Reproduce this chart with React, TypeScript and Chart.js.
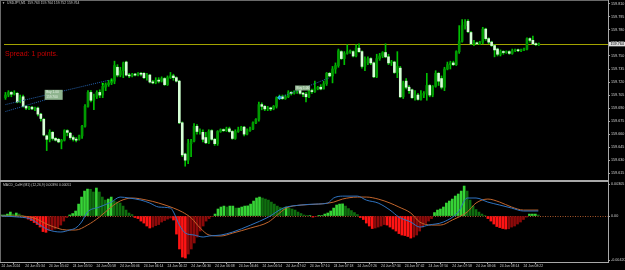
import React, { useEffect, useRef } from "react";
import { Chart, registerables } from "chart.js";
Chart.register(...registerables);

const FONT = "'Liberation Sans', Arial, sans-serif";

const SYMBOL_TITLE = "USDJPY,M1  159.763 159.764 159.752 159.764";
const SPREAD_TEXT = "Spread: 1 points.";
const MACD_TITLE = "MACD_ColH (M1) (12,26,9) 0.00390 0.00051";
const CURRENT_PRICE = 159.764;
const SLOT_COUNT = 205;

const timeTickIndex = [0, 8, 16, 24, 32, 40, 48, 56, 64, 72, 80, 88, 96, 104, 112, 120, 128, 136, 144, 152, 160, 168, 176];
const timeTickLabels = [
  "24 Jun 2024", "24 Jun 05:34", "24 Jun 05:42", "24 Jun 05:50", "24 Jun 05:58", "24 Jun 06:06",
  "24 Jun 06:14", "24 Jun 06:22", "24 Jun 06:30", "24 Jun 06:38", "24 Jun 06:46", "24 Jun 06:54",
  "24 Jun 07:02", "24 Jun 07:10", "24 Jun 07:18", "24 Jun 07:26", "24 Jun 07:34", "24 Jun 07:42",
  "24 Jun 07:50", "24 Jun 07:58", "24 Jun 08:06", "24 Jun 08:14", "24 Jun 08:22",
];

const priceTicks = [159.615, 159.63, 159.645, 159.66, 159.675, 159.69, 159.705, 159.72, 159.735, 159.75, 159.765, 159.78, 159.795, 159.81];
const macdTicks = [-0.0042, 0, 0.00305];

const openPrices = [
  159.702, 159.705, 159.708, 159.706, 159.707, 159.698, 159.703, 159.692, 159.690, 159.691,
  159.689, 159.690, 159.683, 159.677, 159.658, 159.654, 159.662, 159.655, 159.654, 159.651,
  159.653, 159.664, 159.661, 159.656, 159.654, 159.654, 159.658, 159.669, 159.692, 159.708,
  159.699, 159.703, 159.708, 159.705, 159.714, 159.717, 159.719, 159.721, 159.737, 159.728,
  159.733, 159.743, 159.728, 159.727, 159.729, 159.728, 159.730, 159.730, 159.725, 159.728,
  159.720, 159.719, 159.722, 159.721, 159.724, 159.717, 159.725, 159.727, 159.725, 159.721,
  159.673, 159.637, 159.630, 159.649, 159.652, 159.669, 159.663, 159.662, 159.656, 159.650,
  159.664, 159.654, 159.649, 159.663, 159.665, 159.664, 159.666, 159.663, 159.655, 159.663,
  159.665, 159.668, 159.660, 159.664, 159.666, 159.673, 159.677, 159.694, 159.692, 159.689,
  159.690, 159.689, 159.692, 159.702, 159.703, 159.701, 159.703, 159.708, 159.707, 159.709,
  159.711, 159.707, 159.706, 159.703, 159.710, 159.709, 159.712, 159.714, 159.712, 159.718,
  159.730, 159.727, 159.735, 159.739, 159.755, 159.747, 159.753, 159.755, 159.755, 159.750,
  159.759, 159.755, 159.738, 159.742, 159.747, 159.742, 159.726, 159.747, 159.750, 159.754,
  159.749, 159.742, 159.743, 159.731, 159.736, 159.703, 159.721, 159.714, 159.711, 159.702,
  159.705, 159.700, 159.705, 159.707, 159.716, 159.705, 159.715, 159.730, 159.724, 159.714,
  159.735, 159.740, 159.742, 159.740, 159.755, 159.767, 159.785, 159.790, 159.777, 159.764,
  159.765, 159.764, 159.766, 159.781, 159.770, 159.766, 159.762, 159.758, 159.752, 159.755,
  159.754, 159.755, 159.753, 159.756, 159.757, 159.756, 159.757, 159.758, 159.770, 159.768,
  159.764, 159.763,
];
const highPrices = [
  159.708, 159.710, 159.709, 159.710, 159.708, 159.705, 159.705, 159.693, 159.692, 159.692,
  159.691, 159.691, 159.684, 159.678, 159.659, 159.665, 159.663, 159.656, 159.655, 159.654,
  159.665, 159.665, 159.662, 159.658, 159.656, 159.659, 159.670, 159.694, 159.710, 159.710,
  159.706, 159.710, 159.711, 159.718, 159.719, 159.722, 159.724, 159.744, 159.740, 159.737,
  159.743, 159.744, 159.730, 159.730, 159.730, 159.731, 159.731, 159.731, 159.730, 159.729,
  159.722, 159.725, 159.725, 159.726, 159.725, 159.727, 159.731, 159.729, 159.726, 159.722,
  159.674, 159.638, 159.654, 159.654, 159.672, 159.671, 159.666, 159.665, 159.662, 159.665,
  159.665, 159.655, 159.664, 159.666, 159.666, 159.668, 159.668, 159.664, 159.665, 159.668,
  159.669, 159.669, 159.666, 159.668, 159.674, 159.678, 159.697, 159.696, 159.693, 159.692,
  159.691, 159.693, 159.703, 159.705, 159.705, 159.705, 159.710, 159.709, 159.710, 159.711,
  159.712, 159.708, 159.708, 159.712, 159.712, 159.721, 159.715, 159.717, 159.721, 159.731,
  159.731, 159.738, 159.742, 159.758, 159.756, 159.755, 159.763, 159.757, 159.756, 159.763,
  159.764, 159.756, 159.749, 159.749, 159.748, 159.743, 159.752, 159.753, 159.755, 159.764,
  159.752, 159.745, 159.744, 159.755, 159.738, 159.721, 159.724, 159.716, 159.712, 159.710,
  159.707, 159.710, 159.709, 159.730, 159.717, 159.716, 159.733, 159.731, 159.727, 159.737,
  159.743, 159.744, 159.744, 159.756, 159.785, 159.792, 159.792, 159.792, 159.778, 159.768,
  159.766, 159.767, 159.783, 159.782, 159.771, 159.767, 159.763, 159.759, 159.757, 159.756,
  159.756, 159.756, 159.758, 159.758, 159.758, 159.758, 159.759, 159.771, 159.771, 159.773,
  159.765, 159.765,
];
const lowPrices = [
  159.700, 159.703, 159.703, 159.705, 159.696, 159.696, 159.691, 159.688, 159.688, 159.688,
  159.687, 159.681, 159.675, 159.658, 159.641, 159.651, 159.653, 159.652, 159.650, 159.643,
  159.652, 159.658, 159.654, 159.652, 159.651, 159.653, 159.655, 159.668, 159.691, 159.697,
  159.688, 159.701, 159.702, 159.702, 159.710, 159.715, 159.717, 159.718, 159.726, 159.726,
  159.725, 159.727, 159.725, 159.726, 159.727, 159.727, 159.727, 159.724, 159.722, 159.719,
  159.718, 159.718, 159.719, 159.720, 159.716, 159.716, 159.724, 159.722, 159.720, 159.672,
  159.634, 159.623, 159.626, 159.634, 159.651, 159.660, 159.660, 159.651, 159.649, 159.649,
  159.653, 159.647, 159.647, 159.662, 159.663, 159.663, 159.662, 159.654, 159.654, 159.662,
  159.664, 159.658, 159.659, 159.663, 159.665, 159.672, 159.675, 159.688, 159.687, 159.687,
  159.687, 159.688, 159.690, 159.701, 159.700, 159.700, 159.702, 159.705, 159.706, 159.707,
  159.706, 159.703, 159.697, 159.702, 159.707, 159.708, 159.711, 159.711, 159.712, 159.716,
  159.726, 159.719, 159.730, 159.737, 159.746, 159.740, 159.752, 159.753, 159.749, 159.749,
  159.754, 159.736, 159.733, 159.740, 159.740, 159.725, 159.725, 159.745, 159.748, 159.748,
  159.740, 159.739, 159.730, 159.725, 159.702, 159.701, 159.712, 159.707, 159.701, 159.699,
  159.699, 159.699, 159.702, 159.699, 159.703, 159.703, 159.714, 159.716, 159.712, 159.710,
  159.734, 159.735, 159.739, 159.739, 159.753, 159.766, 159.781, 159.777, 159.763, 159.762,
  159.763, 159.763, 159.764, 159.768, 159.764, 159.761, 159.749, 159.750, 159.750, 159.752,
  159.753, 159.752, 159.752, 159.755, 159.755, 159.755, 159.756, 159.757, 159.766, 159.763,
  159.762, 159.762,
];
const closePrices = [
  159.705, 159.708, 159.706, 159.707, 159.697, 159.702, 159.692, 159.690, 159.691, 159.689,
  159.690, 159.683, 159.678, 159.659, 159.654, 159.662, 159.655, 159.653, 159.651, 159.653,
  159.664, 159.662, 159.656, 159.654, 159.653, 159.658, 159.669, 159.692, 159.708, 159.699,
  159.703, 159.708, 159.705, 159.715, 159.717, 159.719, 159.721, 159.739, 159.728, 159.733,
  159.742, 159.728, 159.727, 159.729, 159.728, 159.730, 159.729, 159.725, 159.728, 159.720,
  159.719, 159.722, 159.721, 159.724, 159.717, 159.725, 159.727, 159.725, 159.721, 159.673,
  159.636, 159.630, 159.649, 159.652, 159.669, 159.663, 159.664, 159.654, 159.650, 159.663,
  159.654, 159.649, 159.663, 159.665, 159.664, 159.666, 159.663, 159.655, 159.663, 159.665,
  159.668, 159.660, 159.664, 159.666, 159.673, 159.677, 159.694, 159.692, 159.689, 159.690,
  159.689, 159.692, 159.702, 159.703, 159.701, 159.703, 159.708, 159.707, 159.709, 159.710,
  159.707, 159.706, 159.703, 159.710, 159.709, 159.712, 159.714, 159.712, 159.718, 159.730,
  159.727, 159.735, 159.739, 159.756, 159.747, 159.753, 159.755, 159.756, 159.750, 159.759,
  159.755, 159.738, 159.742, 159.747, 159.742, 159.726, 159.747, 159.750, 159.754, 159.749,
  159.742, 159.743, 159.731, 159.738, 159.703, 159.719, 159.714, 159.710, 159.702, 159.705,
  159.700, 159.705, 159.707, 159.716, 159.705, 159.715, 159.730, 159.721, 159.714, 159.735,
  159.740, 159.742, 159.740, 159.755, 159.767, 159.785, 159.789, 159.778, 159.764, 159.765,
  159.764, 159.766, 159.781, 159.770, 159.766, 159.762, 159.757, 159.752, 159.755, 159.754,
  159.755, 159.753, 159.756, 159.757, 159.756, 159.757, 159.758, 159.770, 159.768, 159.764,
  159.763, 159.764,
];

const histogram = [
  0.0001, 0.0001, 0.00019, 0.00038, 0.00019, 0.00029, 0.00019, 0.00005, -0.00014, -0.00029,
  -0.00043, -0.00062, -0.00081, -0.00105, -0.00148, -0.00155, -0.00138, -0.00133, -0.00124, -0.0011,
  -0.00086, -0.00048, -0.00014, 0.0001, 0.00024, 0.00048, 0.00114, 0.00181, 0.00238, 0.00257,
  0.00255, 0.00229, 0.00267, 0.00229, 0.00181, 0.00152, 0.00162, 0.00181, 0.00143, 0.00133,
  0.00124, 0.00095, 0.00057, 0.00029, 0.00014, -0.00014, -0.00024, -0.00048, -0.00067, -0.00095,
  -0.00114, -0.00105, -0.00091, -0.00081, -0.00057, -0.00043, -0.00029, -0.00019, -0.00038, -0.00172,
  -0.00314, -0.00391, -0.004, -0.00362, -0.00314, -0.00257, -0.002, -0.00143, -0.00095, -0.00048,
  -0.00024, -0.00005, 0.00019, 0.00067, 0.00086, 0.00095, 0.00086, 0.00095, 0.00095, 0.00076,
  0.00076, 0.00086, 0.00095, 0.00097, 0.00114, 0.00143, 0.00172, 0.00181, 0.00172, 0.00162,
  0.00152, 0.00133, 0.00114, 0.00095, 0.00081, 0.00076, 0.00086, 0.00076, 0.00067, 0.00057,
  0.00038, 0.00024, 0.0001, 0.00005, 0.00005, -0.0001, -0.00005, 0.00003, 0.00005, 0.00019,
  0.00029, 0.00048, 0.00076, 0.00105, 0.00114, 0.00116, 0.00095, 0.00071, 0.00052, 0.00033,
  0.00014, -0.00014, -0.00033, -0.00067, -0.00095, -0.00119, -0.00114, -0.00105, -0.00095, -0.00081,
  -0.00086, -0.00105, -0.00124, -0.00143, -0.00167, -0.00181, -0.00186, -0.00195, -0.0021, -0.002,
  -0.00181, -0.00143, -0.00105, -0.00071, -0.00048, -0.00024, 0.00033, 0.00057, 0.00067, 0.00086,
  0.00124, 0.00143, 0.00162, 0.00191, 0.0021, 0.00238, 0.00286, 0.00238, 0.00152, 0.00095,
  0.00062, 0.00038, 0.00019, 0.00005, -0.00024, -0.00048, -0.00076, -0.001, -0.0011, -0.00119,
  -0.00124, -0.00121, -0.00105, -0.00095, -0.00076, -0.00057, -0.00033, -0.0001, 0.00019, 0.00019,
  0.00019, 0.0001,
];

// [bar index, value] readings of the two MACD lines
const macdMain: [number, number][] = [
  [0, 0], [6, -0.0001], [10, -0.0003], [13, -0.00086], [16, -0.00133], [20, -0.00152], [23, -0.00133],
  [25, -0.00114], [27, -0.00057], [29, 0.00038], [33, 0.00086], [37, 0.00133], [40, 0.00181], [43, 0.00172],
  [47, 0.00152], [50, 0.00124], [53, 0.00086], [57, 0.00076], [58, 0.00038], [60, -0.00086], [62, -0.00162],
  [65, -0.00181], [68, -0.002], [70, -0.0019], [74, -0.00181], [78, -0.00152], [84, -0.00086], [90, -0.0001],
  [95, 0.00076], [101, 0.00105], [106, 0.00114], [110, 0.00124], [112, 0.00172], [115, 0.0019], [120, 0.0019],
  [123, 0.00152], [127, 0.00124], [131, 0.00057], [134, -0.0001], [138, -0.00057], [141, -0.00105],
  [144, -0.00086], [149, -0.00057], [154, 0.00038], [157, 0.00172], [160, 0.00172], [164, 0.00133],
  [168, 0.00105], [172, 0.00076], [176, 0.00048], [181, 0.00048],
];
const macdSignal: [number, number][] = [
  [0, 0], [6, 0], [11, -0.00019], [16, -0.00086], [22, -0.00133], [25, -0.00133], [29, -0.00086],
  [33, -0.0001], [37, 0.00086], [40, 0.00143], [44, 0.00172], [49, 0.00152], [53, 0.00124], [58, 0.00076],
  [61, 0.00038], [64, -0.00019], [67, -0.00114], [70, -0.00181], [74, -0.0019], [78, -0.00162], [84, -0.00114],
  [90, -0.00057], [93, 0.0001], [96, 0.00076], [101, 0.00105], [107, 0.00114], [112, 0.00133], [115, 0.00162],
  [120, 0.00181], [123, 0.00181], [127, 0.00162], [131, 0.00124], [134, 0.00086], [138, 0.00029],
  [141, -0.00057], [145, -0.00086], [148, -0.00086], [152, -0.00038], [157, 0.00038], [160, 0.00124],
  [164, 0.00162], [168, 0.00133], [172, 0.00086], [176, 0.00057], [181, 0.00057],
];

// trade history objects, [bar index, price]
const tradeLineA: [number, number][] = [[0, 159.694], [35, 159.722]];
const tradeLineB: [number, number][] = [[0, 159.686], [14, 159.7]];
const tradeLineC: [number, number][] = [[93, 159.702], [110, 159.725]];
const entryDots: [number, number][] = [[33, 159.718], [36, 159.722]];
const exitMarks: [number, number][] = [[93, 159.702]];
const tradeTags = [
  { i: 13.3, price: 159.711, text: ["Buy 1.00", "159.700"] },
  { i: 98.3, price: 159.716, text: ["Buy 1.00"] },
];

const toXY = (arr: [number, number][]) => arr.map(([x, y]) => ({ x, y }));

export default function App() {
  const mainRef = useRef<HTMLCanvasElement>(null);
  const macdRef = useRef<HTMLCanvasElement>(null);

  useEffect(() => {
    document.body.style.margin = "0";
    document.body.style.background = "#000";
    const idx = openPrices.map((_, i) => i);

    const wickData = idx.map((i) => ({ x: i, y: [lowPrices[i], highPrices[i]] }));
    const bodyData = idx.map((i) => ({
      x: i,
      y: [Math.min(openPrices[i], closePrices[i]), Math.max(openPrices[i], closePrices[i])],
    }));
    const bodyColors = idx.map((i) => (closePrices[i] > openPrices[i] ? "#009a00" : "#d6ffd6"));

    const xBase: any = {
      type: "linear",
      min: -0.5,
      max: SLOT_COUNT - 0.5,
      offset: false,
    };

    const mainDecor = {
      id: "mainDecor",
      beforeDatasetsDraw(chart: any) {
        const { ctx, chartArea: a, scales } = chart;
        const py = Math.round(scales.y.getPixelForValue(CURRENT_PRICE)) + 0.5;
        ctx.save();
        ctx.strokeStyle = "#a3a300";
        ctx.lineWidth = 1;
        ctx.beginPath();
        ctx.moveTo(a.left, py);
        ctx.lineTo(a.right, py);
        ctx.stroke();
        ctx.restore();
      },
      afterDraw(chart: any) {
        const { ctx, chartArea: a, scales } = chart;
        ctx.save();
        // frame
        ctx.fillStyle = "#6a6a6a";
        ctx.fillRect(0, 0, a.right, 1);
        ctx.fillRect(0, 0, 1, chart.height);
        ctx.fillStyle = "#a8a8a8";
        ctx.fillRect(a.right, 0, 1, chart.height);
        ctx.fillRect(0, 180, a.right, 2);
        // title
        ctx.fillStyle = "#c8c8c8";
        ctx.textBaseline = "middle";
        ctx.font = `3px ${FONT}`;
        ctx.fillText("▼", 2, 3.5);
        ctx.font = `3.4px ${FONT}`;
        ctx.fillText(SYMBOL_TITLE, 7, 3.5);
        // spread
        ctx.fillStyle = "#c80000";
        ctx.font = `7px ${FONT}`;
        ctx.textBaseline = "alphabetic";
        ctx.fillText(SPREAD_TEXT, 5, 56);
        // trade tags
        tradeTags.forEach((t) => {
          const x = scales.x.getPixelForValue(t.i);
          const y = scales.y.getPixelForValue(t.price);
          const h = t.text.length * 5;
          const w = t.text.length > 1 ? 18 : 15;
          ctx.fillStyle = "#8fb48f";
          ctx.fillRect(x, y, w, h);
          ctx.fillStyle = "#e6f2e6";
          ctx.font = `3.2px ${FONT}`;
          ctx.textBaseline = "middle";
          t.text.forEach((s, k) => ctx.fillText(s, x + 1.5, y + 2.5 + k * 5));
        });
        // current price label
        const py = scales.y.getPixelForValue(CURRENT_PRICE);
        ctx.fillStyle = "#dedede";
        ctx.fillRect(a.right + 1, py - 2, 16, 4.5);
        ctx.fillStyle = "#000";
        ctx.font = `3.7px ${FONT}`;
        ctx.textBaseline = "middle";
        ctx.fillText(CURRENT_PRICE.toFixed(3), a.right + 2.5, py + 0.3);
        ctx.restore();
      },
    };

    const main = new Chart(mainRef.current!, {
      type: "bar",
      data: {
        datasets: [
          {
            type: "line",
            data: toXY(tradeLineA),
            borderColor: "#2462ae",
            borderWidth: 1,
            borderDash: [1, 1],
            pointRadius: 0,
            order: 0,
          } as any,
          {
            type: "line",
            data: toXY(tradeLineB),
            borderColor: "#2462ae",
            borderWidth: 1,
            borderDash: [1, 1],
            pointRadius: 0,
            order: 0,
          } as any,
          {
            type: "line",
            data: toXY(tradeLineC),
            borderColor: "#2462ae",
            borderWidth: 1,
            borderDash: [1, 1],
            pointRadius: 0,
            order: 0,
          } as any,
          {
            type: "scatter",
            data: toXY(entryDots),
            pointStyle: "rect",
            pointRadius: 1.3,
            backgroundColor: "#00ff00",
            borderWidth: 0,
            order: 0,
          } as any,
          {
            type: "scatter",
            data: toXY(exitMarks),
            pointStyle: "rectRot",
            pointRadius: 2.4,
            backgroundColor: "#28b8f0",
            borderWidth: 0,
            order: 0,
          } as any,
          {
            type: "bar",
            data: bodyData as any,
            backgroundColor: bodyColors,
            barThickness: 2,
            grouped: false,
            minBarLength: 1,
            borderWidth: 0,
            order: 1,
          },
          {
            type: "bar",
            data: wickData as any,
            backgroundColor: "#00c000",
            barThickness: 1,
            grouped: false,
            minBarLength: 1,
            borderWidth: 0,
            order: 2,
          },
        ],
      },
      options: {
        responsive: false,
        maintainAspectRatio: false,
        devicePixelRatio: 1,
        animation: false,
        events: [],
        layout: { padding: { top: 1, bottom: 2, left: 0, right: 0 } },
        plugins: { legend: { display: false }, tooltip: { enabled: false } },
        scales: {
          x: { ...xBase, display: false },
          y: {
            position: "right",
            min: 159.6094,
            max: 159.8099,
            afterBuildTicks: (s: any) => {
              s.ticks = priceTicks.map((v) => ({ value: v }));
            },
            afterFit: (s: any) => {
              s.width = 17;
              s.paddingTop = 0;
              s.paddingBottom = 0;
            },
            ticks: {
              color: "#cfcfcf",
              font: { size: 3.7, family: FONT },
              padding: 1,
              autoSkip: false,
              callback: (v: any) => Number(v).toFixed(3),
            },
            grid: { drawOnChartArea: false, drawTicks: true, tickLength: 2, color: "#a8a8a8" },
            border: { display: false },
          },
        },
      } as any,
      plugins: [mainDecor],
    });

    const histColors = histogram.map((v, i) => {
      const prev = i > 0 ? histogram[i - 1] : 0;
      if (v >= 0) return v >= prev ? "#36d436" : "#0f6e0f";
      return v <= prev ? "#ff1414" : "#8c0a0a";
    });

    const macdDecor = {
      id: "macdDecor",
      beforeDatasetsDraw(chart: any) {
        const { ctx, chartArea: a, scales } = chart;
        const y0 = Math.round(scales.y.getPixelForValue(0)) + 0.5;
        ctx.save();
        ctx.strokeStyle = "#a8562a";
        ctx.lineWidth = 1;
        ctx.setLineDash([1, 1.5]);
        ctx.beginPath();
        ctx.moveTo(a.left, y0);
        ctx.lineTo(a.right, y0);
        ctx.stroke();
        ctx.restore();
      },
      afterDraw(chart: any) {
        const { ctx, chartArea: a } = chart;
        ctx.save();
        ctx.fillStyle = "#6a6a6a";
        ctx.fillRect(0, 0, 1, a.bottom);
        ctx.fillStyle = "#a8a8a8";
        ctx.fillRect(a.right, 0, 1, a.bottom + 1);
        ctx.fillStyle = "#c8c8c8";
        ctx.font = `3.4px ${FONT}`;
        ctx.textBaseline = "middle";
        ctx.fillText(MACD_TITLE, 3, 3);
        ctx.restore();
      },
    };

    const macd = new Chart(macdRef.current!, {
      type: "bar",
      data: {
        datasets: [
          {
            type: "line",
            data: toXY(macdMain),
            borderColor: "#2f73c0",
            borderWidth: 1,
            pointRadius: 0,
            cubicInterpolationMode: "monotone",
            order: 0,
          } as any,
          {
            type: "line",
            data: toXY(macdSignal),
            borderColor: "#c2652c",
            borderWidth: 1,
            pointRadius: 0,
            cubicInterpolationMode: "monotone",
            order: 0,
          } as any,
          {
            type: "bar",
            data: idx.map((i) => ({ x: i, y: histogram[i] })) as any,
            backgroundColor: histColors,
            barThickness: 2,
            borderWidth: 0,
            order: 1,
          },
        ],
      },
      options: {
        responsive: false,
        maintainAspectRatio: false,
        devicePixelRatio: 1,
        animation: false,
        events: [],
        layout: { padding: { top: 1, bottom: 0, left: 0, right: 0 } },
        plugins: { legend: { display: false }, tooltip: { enabled: false } },
        scales: {
          x: {
            ...xBase,
            display: true,
            position: "bottom",
            afterBuildTicks: (s: any) => {
              s.ticks = timeTickIndex.map((v) => ({ value: v }));
            },
            afterFit: (s: any) => {
              s.height = 8;
              s.paddingLeft = 0;
              s.paddingRight = 0;
            },
            ticks: {
              color: "#cfcfcf",
              font: { size: 3.4, family: FONT },
              padding: 0.5,
              align: "start",
              autoSkip: false,
              maxRotation: 0,
              minRotation: 0,
              callback: (v: any) => {
                const k = timeTickIndex.indexOf(Number(v));
                return k >= 0 ? timeTickLabels[k] : "";
              },
            },
            grid: { drawOnChartArea: false, drawTicks: true, tickLength: 2, color: "#a8a8a8" },
            border: { display: true, color: "#a8a8a8", width: 1 },
          },
          y: {
            position: "right",
            min: -0.00438,
            max: 0.00315,
            afterBuildTicks: (s: any) => {
              s.ticks = macdTicks.map((v) => ({ value: v }));
            },
            afterFit: (s: any) => {
              s.width = 17;
              s.paddingTop = 0;
              s.paddingBottom = 0;
            },
            ticks: {
              color: "#cfcfcf",
              font: { size: 3.7, family: FONT },
              padding: 1,
              autoSkip: false,
              callback: (v: any) => (Number(v) === 0 ? "0.00" : Number(v).toFixed(5)),
            },
            grid: { drawOnChartArea: false, drawTicks: true, tickLength: 2, color: "#a8a8a8" },
            border: { display: false },
          },
        },
      } as any,
      plugins: [macdDecor],
    });

    return () => {
      main.destroy();
      macd.destroy();
    };
  }, []);

  return (
    <div style={{ position: "relative", width: 625, height: 270, background: "#000", overflow: "hidden" }}>
      <canvas
        ref={mainRef}
        width={625}
        height={182}
        style={{ position: "absolute", left: 0, top: 0, width: 625, height: 182 }}
      />
      <canvas
        ref={macdRef}
        width={625}
        height={88}
        style={{ position: "absolute", left: 0, top: 182, width: 625, height: 88 }}
      />
    </div>
  );
}
